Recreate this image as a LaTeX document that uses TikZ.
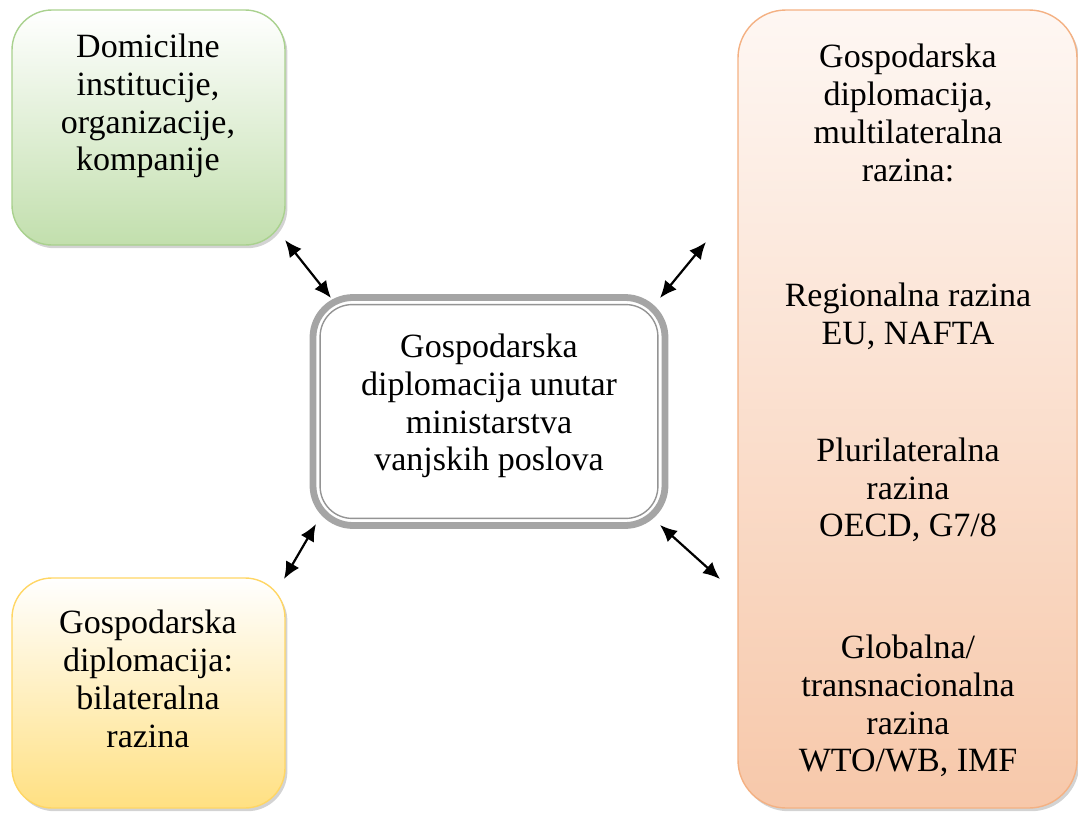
\documentclass[tikz,border=0pt]{standalone}
\usepackage{fontspec}
\setmainfont{Liberation Serif}
\usetikzlibrary{arrows.meta,shadows}
\definecolor{grnB}{RGB}{194,223,173}
\definecolor{grnE}{RGB}{169,209,142}
\definecolor{ylwB}{RGB}{255,224,130}
\definecolor{ylwE}{RGB}{255,214,100}
\definecolor{orgT}{RGB}{254,247,243}
\definecolor{orgB}{RGB}{247,200,170}
\definecolor{orgE}{RGB}{244,177,131}
\definecolor{gryE}{RGB}{165,165,165}
\tikzset{
  box/.style={rounded corners=20pt, line width=0.7pt, inner sep=0pt,
    drop shadow={shadow xshift=1.2pt, shadow yshift=-1.6pt, opacity=0.35, fill=gray}},
  txt/.style={align=center, font=\fontsize{17}{18.9}\selectfont, inner sep=0pt},
  link/.style={{Latex[length=8.5pt,width=7.5pt]}-{Latex[length=8.5pt,width=7.5pt]}, line width=1.1pt, black}
}
\begin{document}
\begin{tikzpicture}[x=0.5pt,y=-0.5pt]
\useasboundingbox (0,0) rectangle (1078,814);
% boxes
\node[box, draw=grnE, top color=white, bottom color=grnB, minimum width=136.5pt, minimum height=117.5pt] (green) at (148.5,127.5) {};
\node[box, draw=ylwE, top color=white, bottom color=ylwB, minimum width=136.5pt, minimum height=115pt] (yellow) at (148.5,693) {};
\node[box, draw=orgE, top color=orgT, bottom color=orgB, minimum width=169.5pt, minimum height=399pt, rounded corners=24pt] (orange) at (907.5,409) {};
\node[rounded corners=20pt, draw=gryE, line width=3.4pt, fill=white, minimum width=176pt, minimum height=114pt] (center) at (489,411.5) {};
\draw[gryE!90!black, line width=0.7pt, rounded corners=16pt] ([shift={(10.5,10.5)}]center.north west) rectangle ([shift={(-10.5,-10.5)}]center.south east);
% texts
\node[txt] (tgreen) at (148,106) {Domicilne\\institucije,\\organizacije,\\kompanije};
\node[txt] (tyellow) at (148,679) {Gospodarska\\diplomacija:\\bilateralna\\razina};
\node[txt] (tcenter) at (489,406) {Gospodarska\\diplomacija unutar\\ministarstva\\vanjskih poslova};
\node[txt] (r1) at (908,113) {Gospodarska\\diplomacija,\\multilateralna\\razina:};
\node[txt] (r2) at (908,316) {Regionalna razina\\EU, NAFTA};
\node[txt] (r3) at (908,490) {Plurilateralna\\razina\\OECD, G7/8};
\node[txt] (r4) at (908,706) {Globalna/\\transnacionalna\\razina\\WTO/WB, IMF};
% connector end points
\coordinate (a1) at (285,240);
\coordinate (a2) at (331,298);
\coordinate (b1) at (706,242);
\coordinate (b2) at (660,298);
\coordinate (c1) at (316,524);
\coordinate (c2) at (284,579);
\coordinate (d1) at (660,525);
\coordinate (d2) at (720,579);
\draw[link] (a1) -- (a2);
\draw[link] (b1) -- (b2);
\draw[link] (c1) -- (c2);
\draw[link] (d1) -- (d2);
\end{tikzpicture}
\end{document}
